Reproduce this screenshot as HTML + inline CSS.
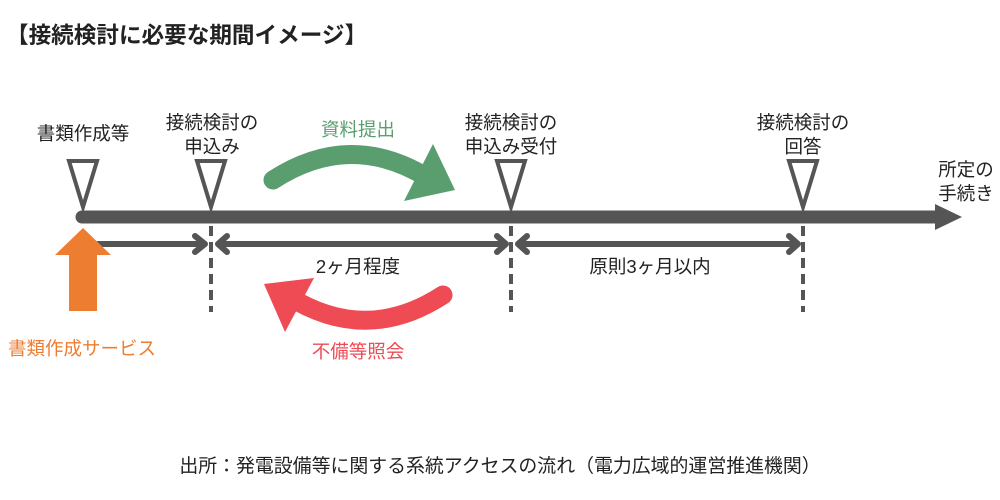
<!DOCTYPE html>
<html><head><meta charset="utf-8"><style>
body{margin:0;background:#fff;}
svg{display:block;font-family:"Liberation Sans","Noto Sans CJK JP",sans-serif;}
</style></head><body>
<svg width="1000" height="500" viewBox="0 0 1000 500" xmlns="http://www.w3.org/2000/svg">
<text x="6" y="43" font-size="22.6" font-weight="bold" fill="#222">【接続検討に必要な期間イメージ】</text>
<!-- labels -->
<g font-size="18.5" fill="#222" text-anchor="middle">
<text x="83" y="140">書類作成等</text>
<text x="212" y="129">接続検討の</text><text x="212" y="153">申込み</text>
<text x="511" y="129">接続検討の</text><text x="511" y="153">申込み受付</text>
<text x="803" y="129">接続検討の</text><text x="803" y="153">回答</text>
<text x="966" y="176">所定の</text><text x="966" y="200">手続き</text>
<text x="358" y="273">2ヶ月程度</text>
<text x="650" y="273">原則3ヶ月以内</text>
</g>
<!-- timeline -->
<line x1="82" y1="217" x2="940" y2="217" stroke="#555" stroke-width="13" stroke-linecap="round"/>
<polygon points="935,204 962,217 935,230" fill="#555"/>
<!-- triangles -->
<g fill="none" stroke="#555" stroke-width="4" stroke-linejoin="miter">
<polygon points="69,161 97,161 83,207"/>
<polygon points="197,161 225,161 211,207"/>
<polygon points="497,161 525,161 511,207"/>
<polygon points="789,161 817,161 803,207"/>
</g>
<!-- dashed -->
<g stroke="#555" stroke-width="4" stroke-dasharray="10,6">
<line x1="211" y1="226" x2="211" y2="312"/>
<line x1="511" y1="226" x2="511" y2="312"/>
<line x1="803" y1="226" x2="803" y2="312"/>
</g>
<!-- range arrows -->
<g stroke="#555" stroke-width="6" fill="none" stroke-linecap="round" stroke-linejoin="round">
<line x1="98" y1="244" x2="204" y2="244"/><polyline points="195,236 205,244 195,252"/>
<line x1="219" y1="244" x2="505" y2="244"/><polyline points="227,236 218,244 227,252"/><polyline points="497,236 506,244 497,252"/>
<line x1="519" y1="244" x2="797" y2="244"/><polyline points="527,236 518,244 527,252"/><polyline points="789,236 798,244 789,252"/>
</g>
<!-- orange arrow -->
<polygon points="83,228 111,255 97,255 97,311 69,311 69,255 55,255" fill="#ED7D31"/>
<text x="8" y="355" font-size="18.5" fill="#ED7D31">書類作成サービス</text>
<!-- green arc -->
<path d="M273,180 Q350,130 428,178" fill="none" stroke="#5A9E6F" stroke-width="19" stroke-linecap="round"/>
<polygon points="433,144 455,190 404,201" fill="#5A9E6F"/>
<text x="358" y="136" font-size="18.5" fill="#5A9E6F" text-anchor="middle">資料提出</text>
<!-- red arc -->
<path d="M443,295 Q366,345 288,296" fill="none" stroke="#EE4B55" stroke-width="19" stroke-linecap="round"/>
<polygon points="264,284 314,278 285,332" fill="#EE4B55"/>
<text x="358" y="358" font-size="18.5" fill="#EE4B55" text-anchor="middle">不備等照会</text>
<!-- footer -->
<text x="500" y="472" font-size="18.9" fill="#222" text-anchor="middle">出所：発電設備等に関する系統アクセスの流れ（電力広域的運営推進機関）</text>
</svg>
</body></html>
